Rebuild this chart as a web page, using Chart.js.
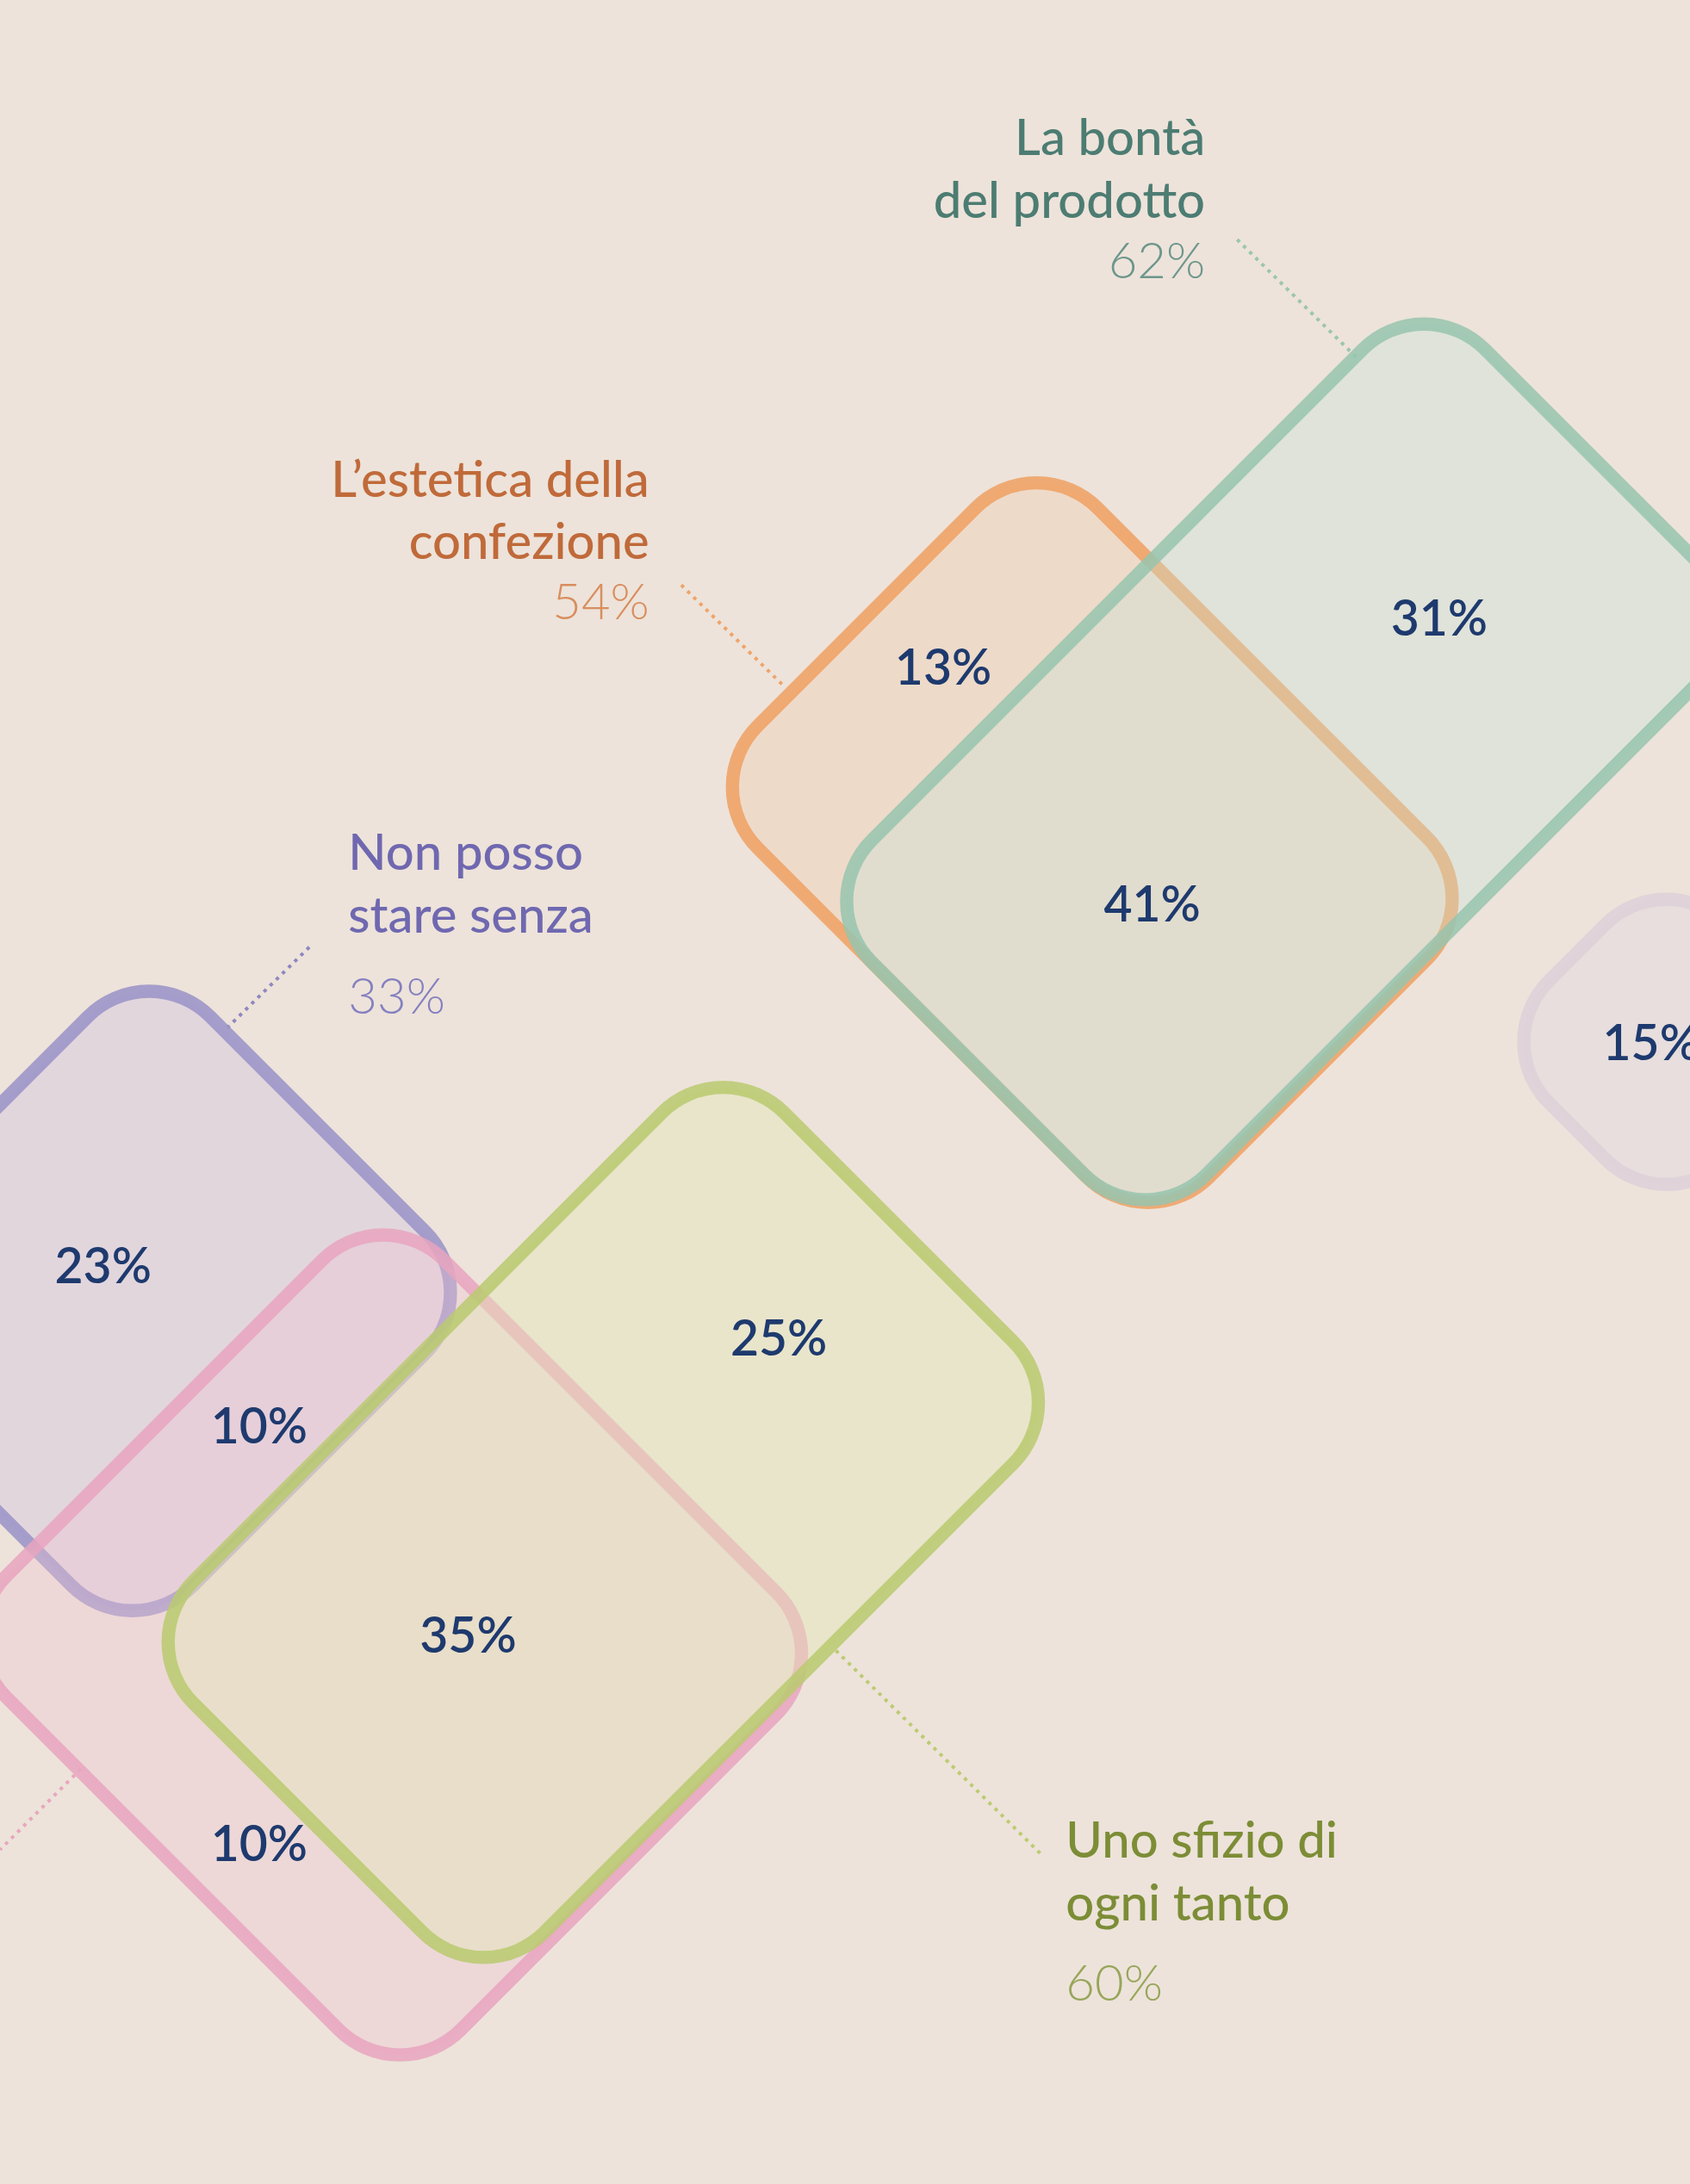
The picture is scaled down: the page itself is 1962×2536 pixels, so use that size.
<!DOCTYPE html>
<html>
<head>
<meta charset="utf-8">
<script src="https://cdn.jsdelivr.net/npm/chart.js@4/dist/chart.umd.min.js"></script>
<style>
  html, body { margin: 0; padding: 0; background: #EDE3DA; }
  #wrap { width: 1962px; height: 2536px; }
</style>
</head>
<body>
<div id="wrap"><canvas id="venn"></canvas></div>
<script>
// sets: centre, half-extent along up-right (p) and down-right (q), in picture units
const setNames = ['confezione', 'bonta', 'altro', 'senza', 'rosa', 'sfizio'];
const setCx = [784, 922, 1196, 101, 281, 433];
const setCy = [605, 547, 748, 934, 1181, 1093];
const setP = [122, 220, 64, 127, 157, 212];
const setQ = [162, 120, 64, 121, 163, 126];
const setStroke = ['rgba(239,160,98,0.85)', 'rgba(150,196,174,0.85)', 'rgba(222,208,216,0.9)',
  'rgba(157,150,200,0.9)', 'rgba(232,164,190,0.85)', 'rgba(184,202,110,0.85)'];
const setFill = ['rgba(242,190,150,0.25)', 'rgba(200,225,215,0.35)', 'rgba(225,215,225,0.45)',
  'rgba(210,195,225,0.4)', 'rgba(238,195,210,0.35)', 'rgba(228,232,180,0.4)'];

// region values
const regionLabels = ['13%', '31%', '41%', '15%', '23%', '10%', '25%', '35%', '10%'];
const regionX = [677, 1033, 827, 1185, 74, 186, 559, 336, 186];
const regionY = [480, 445, 650, 750, 910, 1025, 962, 1175, 1325];

// category captions
const captionLines = [['La bontà', 'del prodotto'], ['L\u2019estetica della', 'confezione'],
  ['Non posso', 'stare senza'], ['Uno sfizio di', 'ogni tanto']];
const captionPct = ['62%', '54%', '33%', '60%'];
const captionX = [865, 466, 250, 765];
const captionY = [100, 345, 613, 1322];
const captionAlign = ['right', 'right', 'left', 'left'];
const captionColor = ['#4C7C72', '#C06A3A', '#6F68B0', '#7C8D36'];
const captionPctColor = ['#6E968C', '#D98E5E', '#8580C0', '#97A65A'];

// dotted leaders [x1, y1, x2, y2]
const leaders = [[888, 172, 975, 258], [489, 420, 562, 492], [222, 680, 163, 738],
  [600, 1185, 748, 1332], [58, 1270, 0, 1328]];
const leaderColor = ['#9CC5B0', '#EFA46A', '#8E88C0', '#BCCB72', '#E8A7BE'];

const vennPlugin = {
  id: 'venn',
  beforeDraw(chart) {
    const c = chart.ctx, xs = chart.scales.x, ys = chart.scales.y;
    const px = v => xs.getPixelForValue(v), py = v => ys.getPixelForValue(v);
    const k = px(1) - px(0);
    c.save();
    c.fillStyle = '#EDE3DA';
    c.fillRect(0, 0, chart.width, chart.height);
    // leaders
    c.lineWidth = 4;
    c.setLineDash([4, 6]);
    leaders.forEach((l, i) => {
      c.strokeStyle = leaderColor[i];
      c.beginPath();
      c.moveTo(px(l[0]), py(l[1]));
      c.lineTo(px(l[2]), py(l[3]));
      c.stroke();
    });
    c.setLineDash([]);
    // sets
    setNames.forEach((n, i) => {
      const w = 2 * setP[i] * Math.SQRT2 * k, h = 2 * setQ[i] * Math.SQRT2 * k;
      c.save();
      c.translate(px(setCx[i]), py(setCy[i]));
      c.rotate(-Math.PI / 4);
      c.beginPath();
      c.roundRect(-w / 2, -h / 2, w, h, 62 * k);
      c.fillStyle = setFill[i];
      c.fill();
      c.lineWidth = 9.5 * k;
      c.strokeStyle = setStroke[i];
      c.stroke();
      c.restore();
    });
    // region values
    c.fillStyle = '#1E3A6E';
    c.font = '600 ' + Math.round(35 * k) + 'px Lato, "Noto Sans", sans-serif';
    c.textAlign = 'center';
    c.textBaseline = 'middle';
    regionLabels.forEach((t, i) => c.fillText(t, px(regionX[i]), py(regionY[i])));
    // captions
    captionLines.forEach((lines, i) => {
      c.textAlign = captionAlign[i];
      c.fillStyle = captionColor[i];
      c.font = '500 ' + Math.round(36 * k) + 'px Lato, "Noto Sans", sans-serif';
      lines.forEach((t, j) => c.fillText(t, px(captionX[i]), py(captionY[i] + j * 45)));
      c.fillStyle = captionPctColor[i];
      c.font = '300 ' + Math.round(36 * k) + 'px Lato, "Noto Sans", sans-serif';
      c.fillText(captionPct[i], px(captionX[i]), py(captionY[i] + 45 + (i < 2 ? 43 : 58)));
    });
    c.restore();
  }
};

new Chart(document.getElementById('venn'), {
  type: 'scatter',
  data: { datasets: [{ data: regionX.map((x, i) => ({ x: x, y: regionY[i] })), pointRadius: 0 }] },
  options: {
    responsive: true,
    maintainAspectRatio: false,
    animation: false,
    layout: { padding: 0 },
    plugins: { legend: { display: false }, tooltip: { enabled: false } },
    scales: {
      x: { type: 'linear', min: 0, max: 1213, display: false },
      y: { type: 'linear', min: 0, max: 1568, reverse: true, display: false }
    }
  },
  plugins: [vennPlugin]
});
</script>
</body>
</html>
